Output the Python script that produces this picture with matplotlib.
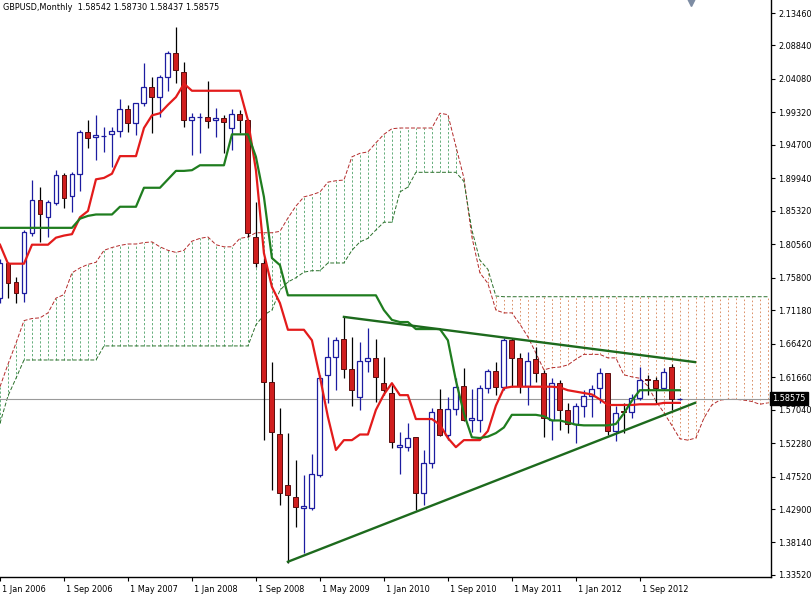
import numpy as np
import matplotlib
matplotlib.use("Agg")
import matplotlib.pyplot as plt
from matplotlib.transforms import ScaledTranslation, blended_transform_factory

# GBPUSD monthly, Jan 2006 .. Feb 2013 (index 0 = Jan 2006)
opens = [1.729, 1.779, 1.752, 1.736, 1.822, 1.869, 1.844, 1.864, 1.904, 1.874,
         1.906, 1.965, 1.958, 1.960, 1.962, 1.967, 1.998, 1.978, 2.007, 2.029,
         2.015, 2.044, 2.078, 2.051, 1.983, 1.986, 1.987, 1.982, 1.985, 1.971,
         1.991, 1.982, 1.816, 1.779, 1.609, 1.536, 1.463, 1.446, 1.431, 1.431,
         1.478, 1.620, 1.645, 1.671, 1.628, 1.589, 1.640, 1.644, 1.608, 1.594,
         1.517, 1.517, 1.532, 1.452, 1.494, 1.571, 1.534, 1.571, 1.604, 1.555,
         1.556, 1.601, 1.625, 1.603, 1.669, 1.644, 1.604, 1.642, 1.622, 1.556,
         1.608, 1.570, 1.550, 1.576, 1.590, 1.601, 1.622, 1.540, 1.569, 1.567,
         1.587, 1.614, 1.612, 1.601, 1.631, 1.58542]
highs = [1.785, 1.781, 1.759, 1.826, 1.897, 1.887, 1.869, 1.911, 1.907, 1.909,
         1.968, 1.982, 1.989, 1.972, 1.972, 2.012, 2.004, 2.007, 2.063, 2.044,
         2.047, 2.081, 2.115, 2.065, 1.992, 1.993, 2.038, 1.999, 1.989, 1.998,
         1.997, 1.984, 1.866, 1.786, 1.638, 1.573, 1.537, 1.499, 1.478, 1.507,
         1.620, 1.674, 1.674, 1.702, 1.674, 1.667, 1.686, 1.671, 1.645, 1.605,
         1.539, 1.551, 1.532, 1.513, 1.573, 1.600, 1.588, 1.615, 1.630, 1.600,
         1.605, 1.628, 1.638, 1.672, 1.672, 1.651, 1.653, 1.660, 1.627, 1.615,
         1.613, 1.580, 1.580, 1.598, 1.606, 1.630, 1.622, 1.576, 1.580, 1.593,
         1.631, 1.620, 1.617, 1.630, 1.636, 1.58730]
lows = [1.722, 1.729, 1.722, 1.723, 1.817, 1.809, 1.816, 1.861, 1.857, 1.852,
        1.881, 1.943, 1.925, 1.937, 1.915, 1.958, 1.965, 1.961, 2.002, 1.964,
        1.987, 2.024, 2.035, 1.972, 1.933, 1.935, 1.971, 1.958, 1.935, 1.940,
        1.964, 1.816, 1.773, 1.527, 1.456, 1.435, 1.352, 1.403, 1.366, 1.428,
        1.475, 1.580, 1.598, 1.615, 1.576, 1.570, 1.624, 1.581, 1.591, 1.516,
        1.479, 1.512, 1.428, 1.435, 1.487, 1.533, 1.527, 1.563, 1.554, 1.539,
        1.539, 1.594, 1.591, 1.598, 1.603, 1.594, 1.577, 1.610, 1.532, 1.527,
        1.541, 1.537, 1.523, 1.560, 1.560, 1.580, 1.534, 1.526, 1.537, 1.558,
        1.584, 1.591, 1.580, 1.598, 1.570, 1.58437]
closes = [1.779, 1.751, 1.736, 1.823, 1.869, 1.848, 1.866, 1.904, 1.871, 1.906,
          1.965, 1.957, 1.961, 1.960, 1.967, 1.998, 1.978, 2.007, 2.029, 2.015,
          2.044, 2.078, 2.054, 1.982, 1.986, 1.986, 1.981, 1.985, 1.980, 1.991,
          1.982, 1.822, 1.779, 1.609, 1.539, 1.452, 1.449, 1.432, 1.433, 1.479,
          1.616, 1.645, 1.669, 1.628, 1.598, 1.640, 1.644, 1.617, 1.598, 1.524,
          1.520, 1.530, 1.452, 1.494, 1.567, 1.534, 1.571, 1.603, 1.556, 1.558,
          1.601, 1.625, 1.603, 1.669, 1.644, 1.604, 1.640, 1.622, 1.558, 1.608,
          1.570, 1.550, 1.576, 1.590, 1.600, 1.622, 1.540, 1.565, 1.567, 1.587,
          1.612, 1.612, 1.601, 1.624, 1.5855, 1.58575]

# Ichimoku lines
tenkan = [1.805, 1.778, 1.778, 1.778, 1.805, 1.805, 1.805, 1.815, 1.818, 1.820,
          1.844, 1.853, 1.898, 1.900, 1.906, 1.931, 1.931, 1.931, 1.971, 1.989,
          1.992, 2.004, 2.015, 2.034, 2.024, 2.024, 2.024, 2.024, 2.024, 2.024,
          2.024, 1.982, 1.911, 1.793, 1.745, 1.722, 1.684, 1.684, 1.684, 1.669,
          1.617, 1.560, 1.513, 1.527, 1.527, 1.535, 1.535, 1.570, 1.592, 1.608,
          1.591, 1.591, 1.557, 1.557, 1.557, 1.549, 1.530, 1.517, 1.527, 1.527,
          1.527, 1.540, 1.576, 1.601, 1.603, 1.603, 1.603, 1.603, 1.603, 1.603,
          1.602, 1.598, 1.596, 1.594, 1.592, 1.585, 1.577, 1.577, 1.577, 1.577,
          1.578, 1.578, 1.578, 1.580, 1.580, 1.580]
kijun = [1.829, 1.829, 1.829, 1.829, 1.829, 1.829, 1.829, 1.829, 1.829, 1.829,
         1.842, 1.846, 1.848, 1.848, 1.848, 1.859, 1.859, 1.859, 1.886, 1.886,
         1.886, 1.898, 1.910, 1.910, 1.911, 1.918, 1.918, 1.918, 1.918, 1.962,
         1.962, 1.962, 1.930, 1.873, 1.786, 1.776, 1.733, 1.733, 1.733, 1.733,
         1.733, 1.733, 1.733, 1.733, 1.733, 1.733, 1.733, 1.733, 1.712, 1.698,
         1.695, 1.695, 1.685, 1.685, 1.685, 1.685, 1.669, 1.612, 1.565, 1.531,
         1.530, 1.532, 1.537, 1.545, 1.563, 1.563, 1.563, 1.563, 1.561, 1.555,
         1.555, 1.552, 1.549, 1.548, 1.548, 1.548, 1.548, 1.550, 1.565, 1.583,
         1.598, 1.598, 1.598, 1.598, 1.598, 1.598]
# cloud spans (already shifted forward, run to the right edge)
span_a = [1.603, 1.635, 1.665, 1.697, 1.700, 1.701, 1.708, 1.729, 1.734, 1.765,
          1.772, 1.777, 1.780, 1.797, 1.801, 1.804, 1.806, 1.806, 1.808, 1.809,
          1.802, 1.797, 1.794, 1.797, 1.810, 1.814, 1.816, 1.805, 1.802, 1.802,
          1.814, 1.816, 1.822, 1.822, 1.822, 1.824, 1.843, 1.860, 1.873, 1.876,
          1.880, 1.894, 1.896, 1.897, 1.930, 1.935, 1.937, 1.950, 1.962, 1.970,
          1.971, 1.971, 1.971, 1.971, 1.971, 1.992, 1.990, 1.945, 1.900, 1.816,
          1.765, 1.750, 1.712, 1.708, 1.708, 1.692, 1.674, 1.651, 1.627, 1.630,
          1.631, 1.634, 1.642, 1.649, 1.649, 1.649, 1.644, 1.644, 1.620, 1.617,
          1.615, 1.604, 1.583, 1.566, 1.548, 1.529, 1.527, 1.530, 1.558, 1.577,
          1.584, 1.585, 1.585, 1.584, 1.582, 1.578, 1.580]
span_b = [1.551, 1.590, 1.615, 1.641, 1.641, 1.641, 1.641, 1.641, 1.641, 1.641,
          1.641, 1.641, 1.641, 1.661, 1.661, 1.661, 1.661, 1.661, 1.661, 1.661,
          1.661, 1.661, 1.661, 1.661, 1.661, 1.661, 1.661, 1.661, 1.661, 1.661,
          1.661, 1.661, 1.691, 1.705, 1.712, 1.740, 1.752, 1.758, 1.766, 1.768,
          1.768, 1.779, 1.779, 1.779, 1.797, 1.809, 1.814, 1.826, 1.837, 1.837,
          1.880, 1.887, 1.908, 1.908, 1.908, 1.908, 1.908, 1.908, 1.895, 1.826,
          1.783, 1.770, 1.732, 1.731, 1.731, 1.731, 1.731, 1.731, 1.731, 1.731,
          1.731, 1.731, 1.731, 1.731, 1.731, 1.731, 1.731, 1.731, 1.731, 1.731,
          1.731, 1.731, 1.731, 1.731, 1.731, 1.731, 1.731, 1.731, 1.731, 1.731,
          1.731, 1.731, 1.731, 1.731, 1.731, 1.731, 1.731]

# triangle trendlines (bar index, price)
upper_trend_x = [43, 86.9]
upper_trend_y = [1.7023, 1.638]
lower_trend_x = [36, 86.9]
lower_trend_y = [1.354, 1.580]

last_close = 1.58575
header = "GBPUSD,Monthly  1.58542 1.58730 1.58437 1.58575"
ytick_vals = [2.13460, 2.08840, 2.04080, 1.99320, 1.94700, 1.89940, 1.85320,
              1.80560, 1.75800, 1.71180, 1.66420, 1.61660, 1.57040, 1.52280,
              1.47520, 1.42900, 1.38140, 1.33520]
xtick_pos = [0, 8, 16, 24, 32, 40, 48, 56, 64, 72, 80]
xtick_labels = ["1 Jan 2006", "1 Sep 2006", "1 May 2007", "1 Jan 2008", "1 Sep 2008",
                "1 May 2009", "1 Jan 2010", "1 Sep 2010", "1 May 2011", "1 Jan 2012",
                "1 Sep 2012"]
shift_marker_x = 86.4

BULL = "#1c1ca0"
BEAR = "#d01e1e"
FS = 5.9

fig = plt.figure(figsize=(8.11, 5.95), dpi=100)
ax = fig.add_axes([0, 18 / 595, 771 / 811, 577 / 595])

o = np.array(opens); h = np.array(highs); l = np.array(lows); c = np.array(closes)
idx = np.arange(len(o))
up = c >= o

# cloud hatching between the spans
a = np.array(span_a); b = np.array(span_b)
cx = np.arange(len(a))
bull_cloud = a >= b
ax.vlines(cx[bull_cloud], b[bull_cloud], a[bull_cloud], colors="#5aa872",
          linestyles=(0, (2.5, 2.2)), lw=0.65, zorder=1)
ax.vlines(cx[~bull_cloud], a[~bull_cloud], b[~bull_cloud], colors="#d9895e",
          linestyles=(0, (1.8, 2.6)), lw=0.65, zorder=1)
ax.plot(cx, a, color="#b32a2a", lw=0.7, ls=(0, (4, 2)), zorder=1.5)
ax.plot(cx, b, color="#2b702b", lw=0.7, ls=(0, (4, 2)), zorder=1.5)

ax.axhline(last_close, color="#9a9a9a", lw=0.8, zorder=2)

# candles
ax.vlines(idx[up], l[up], h[up], color=BULL, lw=0.9, zorder=3)
ax.vlines(idx[~up], l[~up], h[~up], color="black", lw=0.9, zorder=3)
ax.bar(idx[up], c[up] - o[up], bottom=o[up], width=0.62, facecolor="white",
       edgecolor=BULL, lw=0.9, zorder=4)
ax.bar(idx[~up], o[~up] - c[~up], bottom=c[~up], width=0.62, facecolor=BEAR,
       edgecolor="#5a0c0c", lw=0.7, zorder=4)

# tenkan / kijun
ax.plot(idx, tenkan, color="#e31b1b", lw=1.6, zorder=5)
ax.plot(idx, kijun, color="#1f7d1f", lw=1.6, zorder=5)

# trendlines
ax.plot(upper_trend_x, upper_trend_y, color="#1d6a1d", lw=1.7, zorder=6)
ax.plot(lower_trend_x, lower_trend_y, color="#1d6a1d", lw=1.7, zorder=6)

ax.set_xlim(0, 96.4)
ax.set_ylim(1.3323, 2.1531)

for side in ("top", "left"):
    ax.spines[side].set_visible(False)
for side in ("right", "bottom"):
    ax.spines[side].set_linewidth(1.0)

ax.yaxis.tick_right()
ax.set_yticks(ytick_vals)
ax.set_yticklabels([f"{v:.5f}" for v in ytick_vals])
ax.tick_params(axis="y", direction="out", length=3, width=0.8, pad=2, labelsize=FS)
ax.set_xticks(xtick_pos)
ax.set_xticklabels(xtick_labels)
ax.tick_params(axis="x", direction="out", length=3, width=0.8, pad=3, labelsize=FS)
shift = ScaledTranslation(2 / 100, 0, fig.dpi_scale_trans)
for lab in ax.get_xticklabels():
    lab.set_horizontalalignment("left")
    lab.set_transform(lab.get_transform() + shift)

# current price tag on the axis
tag_tr = blended_transform_factory(ax.transAxes, ax.transData)
ax.text(1.002, last_close, f"{last_close:.5f}", transform=tag_tr, ha="left", va="center",
        color="white", fontsize=FS, zorder=10, clip_on=False,
        bbox=dict(boxstyle="square,pad=0.25", fc="black", ec="black"))

# chart shift marker
ax.plot([shift_marker_x], [1.0], marker="v", ms=8, color="#7d8ca3",
        transform=blended_transform_factory(ax.transData, ax.transAxes),
        clip_on=False, zorder=10)

fig.text(3 / 811, 1 - 8 / 595, header, fontsize=FS, ha="left", va="center")

fig.savefig("out.png", dpi=100)
